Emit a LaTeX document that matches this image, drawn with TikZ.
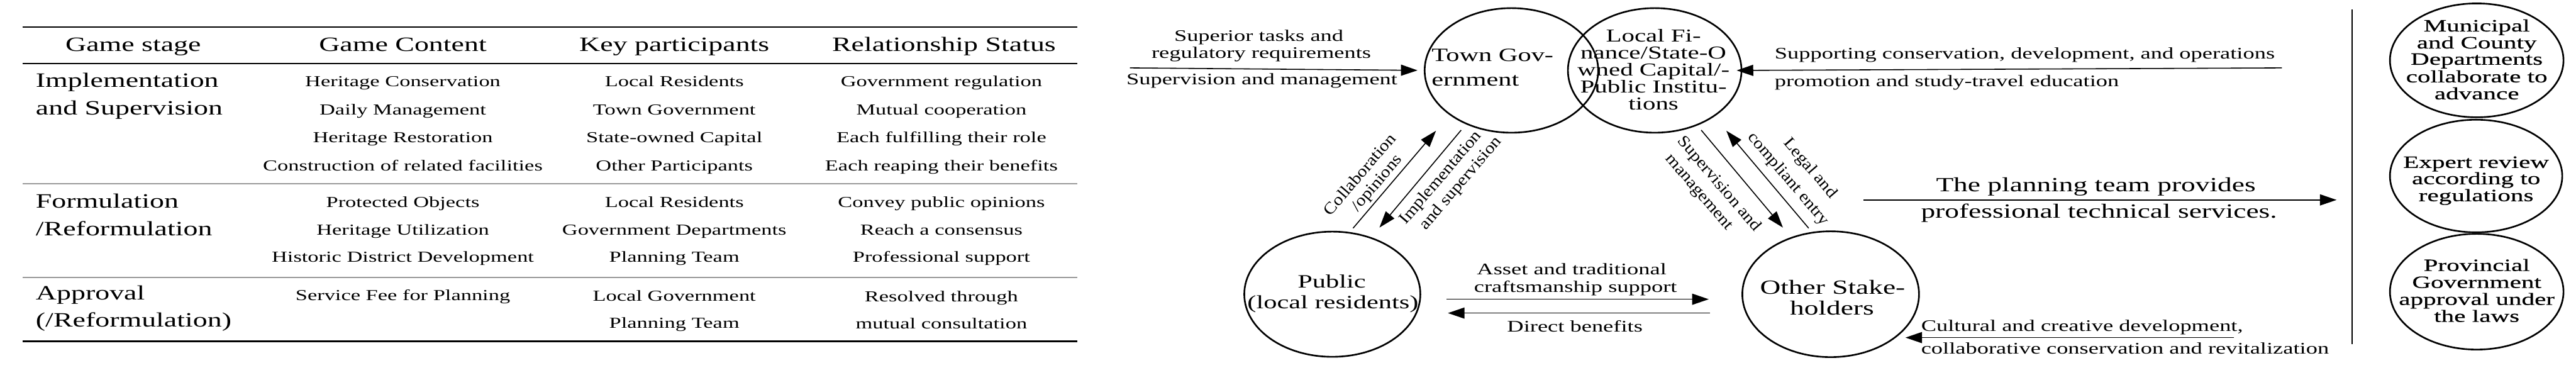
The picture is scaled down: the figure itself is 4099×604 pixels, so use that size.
\documentclass[tikz,border=0pt]{standalone}
\usepackage{fontspec}
\setmainfont{Liberation Serif}[FakeStretch=1.42]
\newfontfamily\rotfont{Liberation Serif}[FakeStretch=1.13]
\newfontfamily\rightfont{Liberation Serif}[FakeStretch=1.5,FakeBold=0.6]
\usetikzlibrary{arrows.meta,shapes.geometric}
\newcounter{tn}
\newcommand\T[4][]{\stepcounter{tn}\node[txt,#1] (t\thetn) at (#2,#3) {#4};}
\newcommand\fHead{\fontsize{9.2pt}{11pt}\selectfont}
\newcommand\fBody{\fontsize{6.9pt}{8pt}\selectfont}
\newcommand\fSmall{\fontsize{7.3pt}{9pt}\selectfont}
\newcommand\fRot{\rotfont\fontsize{7.4pt}{9pt}\selectfont}
\newcommand\fMid{\fontsize{8.5pt}{10pt}\selectfont}
\newcommand\fLF{\fontsize{8.2pt}{10pt}\selectfont}
\newcommand\fOS{\fontsize{9.1pt}{11pt}\selectfont}
\newcommand\fPlan{\fontsize{9.1pt}{11pt}\selectfont}
\newcommand\fRight{\rightfont\fontsize{7.8pt}{9pt}\selectfont}
\tikzset{
  ell/.style={draw, ellipse, line width=0.75pt, inner sep=0pt},
  txt/.style={anchor=base, inner sep=0pt, outer sep=0pt},
  arr/.style={line width=0.45pt, -{Triangle[length=7.5pt,width=5pt]}},
  thickrule/.style={line width=0.75pt},
  midrule/.style={line width=0.6pt},
  grayrule/.style={line width=0.55pt, black!40},
}
\begin{document}
\begin{tikzpicture}[x=0.01cm, y=-0.01cm]
\path[fill=white] (0,0) rectangle (4099,604);
\useasboundingbox (0,0) rectangle (4099,604);

% ---------------- table ----------------
\draw[thickrule] (36,43) -- (1714,43);
\draw[midrule] (36,101) -- (1714,101);
\draw[grayrule] (36,292) -- (1714,292);
\draw[grayrule] (36,441) -- (1714,441);
\draw[thickrule] (36,543) -- (1714,543);

\T{212}{82}{\fHead Game stage}
\T{641}{82}{\fHead Game Content}
\T{1073}{82}{\fHead Key participants}
\T{1502}{82}{\fHead Relationship Status}

\T[anchor=base west]{57}{139}{\fHead Implementation}
\T[anchor=base west]{57}{183}{\fHead and Supervision}
\T[anchor=base west]{57}{331}{\fHead Formulation}
\T[anchor=base west]{57}{375}{\fHead /Reformulation}
\T[anchor=base west]{57}{477}{\fHead Approval}
\T[anchor=base west]{57}{520}{\fHead (/Reformulation)}

\T{641}{138}{\fBody Heritage Conservation}
\T{641}{183}{\fBody Daily Management}
\T{641}{227}{\fBody Heritage Restoration}
\T{641}{272}{\fBody Construction of related facilities}
\T{641}{330}{\fBody Protected Objects}
\T{641}{374}{\fBody Heritage Utilization}
\T{641}{417}{\fBody Historic District Development}
\T{641}{478}{\fBody Service Fee for Planning}

\T{1073}{138}{\fBody Local Residents}
\T{1073}{183}{\fBody Town Government}
\T{1073}{227}{\fBody State-owned Capital}
\T{1073}{272}{\fBody Other Participants}
\T{1073}{330}{\fBody Local Residents}
\T{1073}{374}{\fBody Government Departments}
\T{1073}{417}{\fBody Planning Team}
\T{1073}{479}{\fBody Local Government}
\T{1073}{522}{\fBody Planning Team}

\T{1498}{138}{\fBody Government regulation}
\T{1498}{183}{\fBody Mutual cooperation}
\T{1498}{227}{\fBody Each fulfilling their role}
\T{1498}{272}{\fBody Each reaping their benefits}
\T{1498}{330}{\fBody Convey public opinions}
\T{1498}{374}{\fBody Reach a consensus}
\T{1498}{417}{\fBody Professional support}
\T{1498}{480}{\fBody Resolved through}
\T{1498}{523}{\fBody mutual consultation}

% ---------------- diagram ----------------
\node[ell, minimum width=2.76cm, minimum height=1.98cm] (TG) at (2405,112) {};
\node[ell, minimum width=2.76cm, minimum height=1.98cm] (LF) at (2633,112) {};
\node[ell, minimum width=2.80cm, minimum height=1.99cm] (PU) at (2120,468) {};
\node[ell, minimum width=2.81cm, minimum height=2.00cm] (OS) at (2913,468) {};
\node[ell, minimum width=2.76cm, minimum height=1.81cm] (R1) at (3941,96) {};
\node[ell, minimum width=2.74cm, minimum height=1.79cm] (R2) at (3940,280) {};
\node[ell, minimum width=2.76cm, minimum height=1.84cm] (R3) at (3941,464) {};

\T[anchor=base west]{2278}{98}{\fMid Town Gov-}
\T[anchor=base west]{2278}{137}{\fMid ernment}

\T{2631}{67}{\fLF Local Fi-}
\T{2631}{94}{\fLF nance/State-O}
\T{2631}{121}{\fLF wned Capital/-}
\T{2631}{148}{\fLF Public Institu-}
\T{2631}{175}{\fLF tions}

\T{2119}{458}{\fMid Public}
\T{2121}{491}{\fMid (local residents)}

\T{2916}{468}{\fOS Other Stake-}
\T{2915}{501}{\fOS holders}

\T{3941}{50}{\fRight Municipal}
\T{3941}{77}{\fRight and County}
\T{3941}{103}{\fRight Departments}
\T{3941}{131}{\fRight collaborate to}
\T{3941}{158}{\fRight advance}
\T{3940}{267}{\fRight Expert review}
\T{3940}{293}{\fRight according to}
\T{3940}{320}{\fRight regulations}
\T{3941}{431}{\fRight Provincial}
\T{3941}{458}{\fRight Government}
\T{3941}{485}{\fRight approval under}
\T{3941}{512}{\fRight the laws}

\draw[line width=0.6pt] (3743,15) -- (3743,547);

% arrows
\coordinate (a1s) at (1798,108);
\draw[arr, shorten >=0.1cm] (a1s) -- (TG.west);
\coordinate (a2s) at (3631,108);
\draw[arr, shorten >=-0.09cm] (a2s) -- (LF.east);
\coordinate (a3s) at (2153,363); \coordinate (a3e) at (2285,208);
\draw[arr] (a3s) -- (a3e);
\coordinate (a4s) at (2325,207); \coordinate (a4e) at (2195,362);
\draw[arr] (a4s) -- (a4e);
\coordinate (a5s) at (2707,207); \coordinate (a5e) at (2837,362);
\draw[arr] (a5s) -- (a5e);
\coordinate (a6s) at (2878,363); \coordinate (a6e) at (2747,208);
\draw[arr] (a6s) -- (a6e);
\coordinate (a7s) at (2302,476); \coordinate (a7e) at (2719,476);
\draw[arr] (a7s) -- (a7e);
\coordinate (a8s) at (2721,498); \coordinate (a8e) at (2304,498);
\draw[arr] (a8s) -- (a8e);
\coordinate (a9s) at (2965,318); \coordinate (a9e) at (3718,318);
\draw[arr] (a9s) -- (a9e);
\coordinate (a10s) at (3555,537); \coordinate (a10e) at (3032,537);
\draw[arr] (a10s) -- (a10e);

% arrow labels
\T{2003}{66}{\fSmall Superior tasks and}
\T{2007}{93}{\fSmall regulatory requirements}
\T{2008}{135}{\fSmall Supervision and management}
\T[anchor=base west]{2824}{94}{\fSmall Supporting conservation, development, and operations}
\T[anchor=base west]{2824}{138}{\fSmall promotion and study-travel education}
\T{2501}{437}{\fSmall Asset and traditional}
\T{2507}{465}{\fSmall craftsmanship support}
\T{2506}{528}{\fSmall Direct benefits}
\T[anchor=base west]{3057}{527}{\fSmall Cultural and creative development,}
\T[anchor=base west]{3057}{563}{\fSmall collaborative conservation and revitalization}
\T{3335}{305}{\fPlan The planning team provides}
\T{3340}{347}{\fPlan professional technical services.}

\T[anchor=center, rotate=49.5]{2163}{277}{\fRot Collaboration}
\T[anchor=center, rotate=49.5]{2192}{292}{\fRot /opinions}
\T[anchor=center, rotate=49.5]{2293}{283}{\fRot Implementation}
\T[anchor=center, rotate=49.5]{2325}{292}{\fRot and supervision}
\T[anchor=center, rotate=-49.5]{2735}{293}{\fRot Supervision and}
\T[anchor=center, rotate=-49.5]{2702}{307}{\fRot management}
\T[anchor=center, rotate=-49.5]{2880}{268}{\fRot Legal and}
\T[anchor=center, rotate=-49.5]{2845}{285}{\fRot compliant entry}
\end{tikzpicture}
\end{document}
